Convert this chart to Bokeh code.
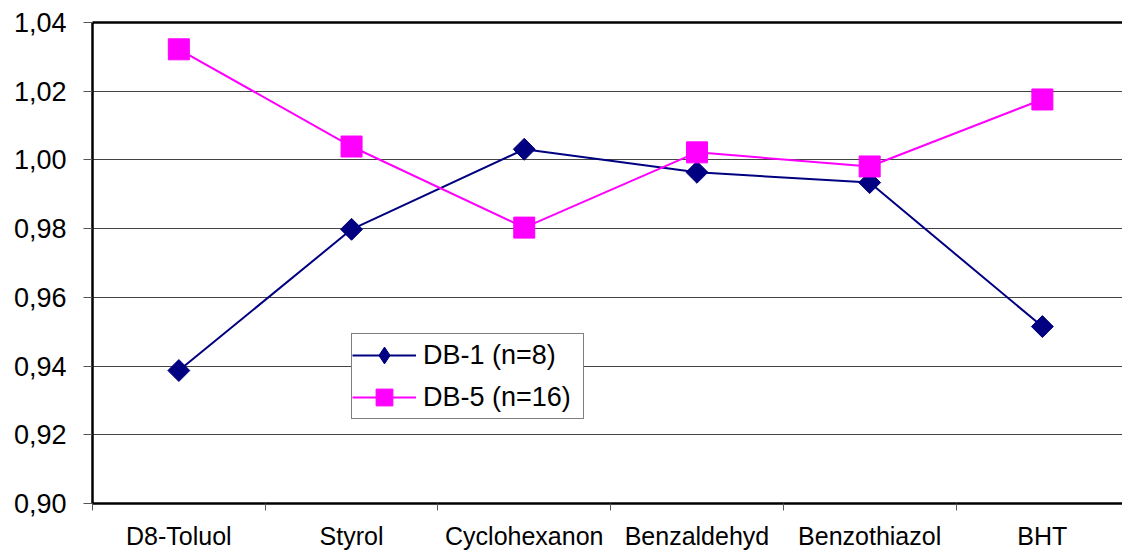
from math import pi
from bokeh.plotting import figure
from bokeh.models import (Range1d, FixedTicker, LinearAxis, CustomJSTickFormatter,
                          Legend, LegendItem)
from bokeh.embed import file_html
from bokeh.resources import INLINE

categories = ["D8-Toluol", "Styrol", "Cyclohexanon", "Benzaldehyd", "Benzothiazol", "BHT"]
db1 = [0.9387, 0.9798, 1.0031, 0.9964, 0.9934, 0.9515]
db5 = [1.0322, 1.0039, 0.9803, 1.0022, 0.9981, 1.0176]
y_ticks = [0.90, 0.92, 0.94, 0.96, 0.98, 1.00, 1.02, 1.04]
series_labels = ["DB-1 (n=8)", "DB-5 (n=16)"]

FONT = "Liberation Sans"
x = [i + 0.5 for i in range(len(categories))]
boundaries = list(range(len(categories) + 1))

p = figure(width=1122, height=553, output_backend="svg", toolbar_location=None,
           x_range=Range1d(0, 5.964), y_range=Range1d(0.90, 1.04),
           min_border_left=92, min_border_right=0, min_border_top=22, min_border_bottom=50,
           background_fill_color="white", border_fill_color="white")
p.outline_line_color = None

# x axis
xa = p.xaxis[0]
xa.ticker = FixedTicker(ticks=x, minor_ticks=boundaries)
xa.formatter = CustomJSTickFormatter(args=dict(cats=categories),
                                     code="const i = Math.floor(tick); return (i >= 0 && i < cats.length) ? cats[i] : '';")
xa.axis_line_width = 2.5
xa.axis_line_color = "black"
xa.major_tick_out = 0
xa.major_tick_in = 0
xa.minor_tick_out = 7
xa.minor_tick_in = 0
xa.minor_tick_line_color = "#555555"
xa.minor_tick_line_width = 1
xa.major_label_text_font = FONT
xa.major_label_text_font_size = "25px"
xa.major_label_text_color = "black"
xa.major_label_standoff = 11

# y axis
ya = p.yaxis[0]
ya.ticker = FixedTicker(ticks=y_ticks)
ya.formatter = CustomJSTickFormatter(code="return tick.toFixed(2).replace('.', ',');")
ya.axis_line_width = 2.5
ya.axis_line_color = "black"
ya.major_tick_out = 9
ya.major_tick_in = 0
ya.major_tick_line_color = "#555555"
ya.major_label_text_font = FONT
ya.major_label_text_font_size = "27px"
ya.major_label_text_color = "black"
ya.major_label_standoff = 17

# top border line
top = LinearAxis(ticker=FixedTicker(ticks=[]), axis_line_width=2.5, axis_line_color="black",
                 major_tick_out=0, major_tick_in=0, minor_tick_out=0, minor_tick_in=0,
                 major_label_text_font_size="0px")
p.add_layout(top, "above")

p.xgrid.visible = False
p.ygrid.ticker = FixedTicker(ticks=y_ticks[1:-1])
p.ygrid.grid_line_color = "#444444"
p.ygrid.grid_line_width = 1

l1 = p.line(x, db1, line_color="#000080", line_width=2)
s1 = p.scatter(x, db1, marker="square", angle=pi / 4, size=15.5,
               fill_color="#000080", line_color="#000080")
s1_key = p.scatter(x, db1, marker="diamond", size=20, visible=False,
                   fill_color="#000080", line_color="#000080")
l2 = p.line(x, db5, line_color="#FF00FF", line_width=2)
s2 = p.scatter(x, db5, marker="square", size=21,
               fill_color="#FF00FF", line_color="#FF00FF")

legend = Legend(items=[LegendItem(label=series_labels[0], renderers=[l1, s1_key]),
                       LegendItem(label=series_labels[1], renderers=[l2, s2])],
                location=(259, 84), orientation="vertical",
                border_line_color="black", border_line_width=1,
                background_fill_color="white", background_fill_alpha=1,
                label_text_font=FONT, label_text_font_size="27px", label_text_color="black",
                glyph_width=64, glyph_height=42, label_height=42, label_width=160,
                label_standoff=7, spacing=-4, padding=0, margin=0)
p.add_layout(legend, "center")

open("out.html", "w").write(file_html(p, INLINE))
